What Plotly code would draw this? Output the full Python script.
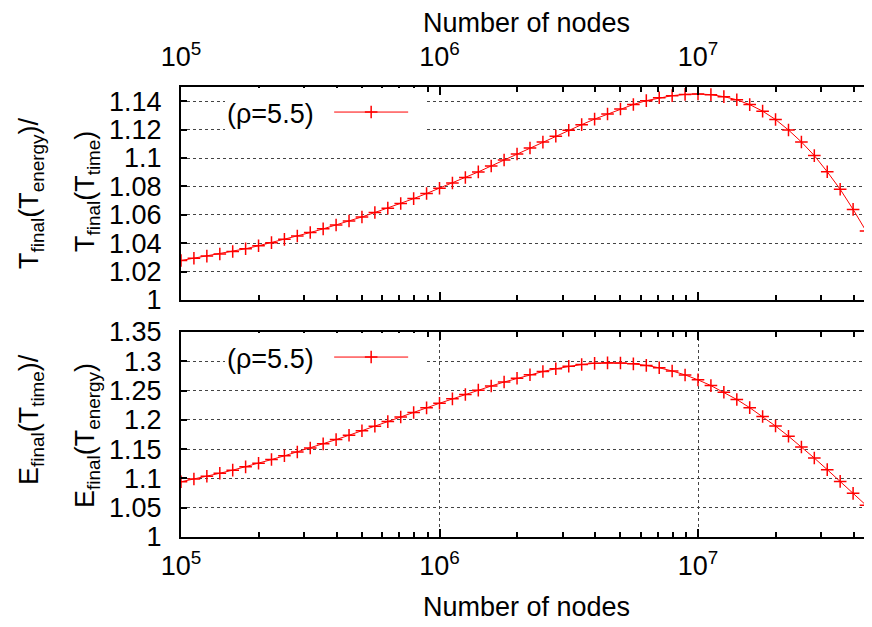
import plotly.graph_objects as go

# ---------------- data ----------------
nodes = [
    1.000e5, 1.122e5, 1.259e5, 1.413e5, 1.585e5, 1.778e5, 1.995e5, 2.239e5, 2.512e5, 2.818e5,
    3.162e5, 3.548e5, 3.981e5, 4.467e5, 5.012e5, 5.623e5, 6.310e5, 7.079e5, 7.943e5, 8.913e5,
    1.000e6, 1.122e6, 1.259e6, 1.413e6, 1.585e6, 1.778e6, 1.995e6, 2.239e6, 2.512e6, 2.818e6,
    3.162e6, 3.548e6, 3.981e6, 4.467e6, 5.012e6, 5.623e6, 6.310e6, 7.079e6, 7.943e6, 8.913e6,
    1.000e7, 1.122e7, 1.259e7, 1.413e7, 1.585e7, 1.778e7, 1.995e7, 2.239e7, 2.512e7, 2.818e7,
    3.162e7, 3.548e7, 3.981e7, 4.467e7, 5.012e7,
]

t_ratio = [
    1.0278, 1.0294, 1.0309, 1.0324, 1.0342, 1.0361, 1.0382, 1.0404, 1.0427, 1.0451,
    1.0475, 1.0501, 1.0528, 1.0556, 1.0585, 1.0616, 1.0647, 1.0680, 1.0714, 1.0750,
    1.0787, 1.0824, 1.0863, 1.0902, 1.0944, 1.0986, 1.1028, 1.1070, 1.1112, 1.1154,
    1.1195, 1.1235, 1.1274, 1.1310, 1.1345, 1.1377, 1.1404, 1.1424, 1.1439, 1.1448,
    1.1451, 1.1446, 1.1432, 1.1410, 1.1376, 1.1330, 1.1271, 1.1197, 1.1113, 1.1017,
    1.0903, 1.0780, 1.0638, 1.0486, 1.0326,
]

e_ratio = [
    1.0943, 1.0989, 1.1038, 1.1088, 1.1141, 1.1198, 1.1259, 1.1322, 1.1386, 1.1452,
    1.1519, 1.1590, 1.1663, 1.1737, 1.1813, 1.1891, 1.1970, 1.2048, 1.2126, 1.2205,
    1.2283, 1.2359, 1.2434, 1.2507, 1.2578, 1.2646, 1.2710, 1.2770, 1.2825, 1.2873,
    1.2914, 1.2945, 1.2965, 1.2973, 1.2970, 1.2956, 1.2930, 1.2889, 1.2835, 1.2767,
    1.2683, 1.2585, 1.2472, 1.2347, 1.2208, 1.2057, 1.1894, 1.1721, 1.1537, 1.1348,
    1.1150, 1.0949, 1.0745, 1.0544, 1.0340,
]

series_label = "(ρ=5.5)"

x_major = [1e5, 1e6, 1e7]
x_major_text = ["10<sup>5</sup>", "10<sup>6</sup>", "10<sup>7</sup>"]
x_minor = [m * d for d in (1e5, 1e6) for m in range(2, 10)] + [2e7, 3e7, 4e7]

t_ticks = [1.0, 1.02, 1.04, 1.06, 1.08, 1.10, 1.12, 1.14]
t_ticktext = ["1", "1.02", "1.04", "1.06", "1.08", "1.1", "1.12", "1.14"]
e_ticks = [1.0, 1.05, 1.10, 1.15, 1.20, 1.25, 1.30, 1.35]
e_ticktext = ["1", "1.05", "1.1", "1.15", "1.2", "1.25", "1.3", "1.35"]

# ---------------- layout geometry (pixels, in window coordinates) ----------------
OFF = 8                      # default page body margin
WIN_W, WIN_H = 872, 627
W, H = WIN_W - OFF, WIN_H - OFF
LEFT, RIGHT_EDGE = 181, 872  # plot area in window px
TOP_P = (87, 300)
BOT_P = (332, 537)
DECADE = 258.5

L = LEFT - OFF
T = TOP_P[0] - OFF
B = WIN_H - BOT_P[1]
R = 0
PW, PH = W - L - R, H - T - B


def py(p):
    return (WIN_H - B - p) / PH


def px(p):
    return (p - LEFT) / PW


FONT = "Liberation Sans, Arial, Helvetica, sans-serif"
FS = 27
RED = "#ff0000"
GRID = "#444444"

fig = go.Figure()

marker = dict(symbol="cross-thin", size=9, color=RED, line=dict(color=RED, width=1.5))

fig.add_trace(go.Scatter(x=nodes, y=t_ratio, mode="lines+markers", name=" ",
                         line=dict(color=RED, width=1), marker=marker,
                         xaxis="x", yaxis="y", legend="legend"))
fig.add_trace(go.Scatter(x=nodes, y=e_ratio, mode="lines+markers", name=" ",
                         line=dict(color=RED, width=1), marker=marker,
                         xaxis="x2", yaxis="y2", legend="legend2"))

xcommon = dict(
    type="log", range=[5, 5 + PW / DECADE], automargin=False,
    tickmode="array", tickvals=x_major, ticktext=x_major_text,
    ticks="inside", ticklen=8, tickwidth=1.5, tickcolor="black",
    minor=dict(tickmode="array", tickvals=x_minor, ticks="inside", ticklen=5,
               tickwidth=1.5, tickcolor="black", showgrid=False),
    showline=True, linewidth=2, linecolor="black", mirror="allticks",
    tickfont=dict(family=FONT, size=FS, color="black"),
    zeroline=False,
)

ycommon = dict(
    tickmode="array", ticks="inside", ticklen=6, tickwidth=1.5, tickcolor="black",
    showline=True, linewidth=2, linecolor="black", mirror=False, automargin=False,
    showgrid=True, gridcolor=GRID, griddash="dot", gridwidth=1,
    tickfont=dict(family=FONT, size=FS, color="black"),
    ticklabelstandoff=12, zeroline=False,
)

legend_common = dict(
    xanchor="left", yanchor="top", bgcolor="white", borderwidth=0, itemwidth=74,
    title=dict(text=series_label + "&nbsp;", side="left", font=dict(family=FONT, size=FS)),
    font=dict(family=FONT, size=FS),
)

fig.update_layout(
    width=W, height=H,
    margin=dict(l=L, r=R, t=T, b=B, pad=0, autoexpand=False),
    paper_bgcolor="white", plot_bgcolor="white",
    font=dict(family=FONT, size=FS, color="black"),
    xaxis=dict(xcommon, anchor="y", side="top", showgrid=False, ticklabelstandoff=8,
               title=dict(text="Number of nodes", font=dict(family=FONT, size=FS), standoff=0)),
    xaxis2=dict(xcommon, anchor="y2", side="bottom", showgrid=True, ticklabelstandoff=4,
                gridcolor=GRID, griddash="dot", gridwidth=1,
                title=dict(text="Number of nodes", font=dict(family=FONT, size=FS), standoff=17)),
    yaxis=dict(ycommon, domain=[py(TOP_P[1]), py(TOP_P[0])], range=[1, 1.15],
               tickvals=t_ticks, ticktext=t_ticktext, anchor="x"),
    yaxis2=dict(ycommon, domain=[py(BOT_P[1]), py(BOT_P[0])], range=[1, 1.35],
                tickvals=e_ticks, ticktext=e_ticktext, anchor="x2"),
    legend=dict(legend_common, x=px(225), y=py(TOP_P[0] + 1)),
    legend2=dict(legend_common, x=px(225), y=py(BOT_P[0] + 1)),
    showlegend=True,
)

# two-line y axis titles as rotated annotations
ytitles = [
    ("T<sub>final</sub>(T<sub>energy</sub>)/", 31, 194),
    ("T<sub>final</sub>(T<sub>time</sub>)", 87, 192),
    ("E<sub>final</sub>(T<sub>time</sub>)/", 31, 420),
    ("E<sub>final</sub>(T<sub>energy</sub>)", 87, 436),
]
for text, xp, yp in ytitles:
    fig.add_annotation(text=text, xref="paper", yref="paper", x=px(xp), y=py(yp),
                       xanchor="center", yanchor="middle", textangle=-90, showarrow=False,
                       font=dict(family=FONT, size=FS, color="black"))

fig.write_html("out.html")
